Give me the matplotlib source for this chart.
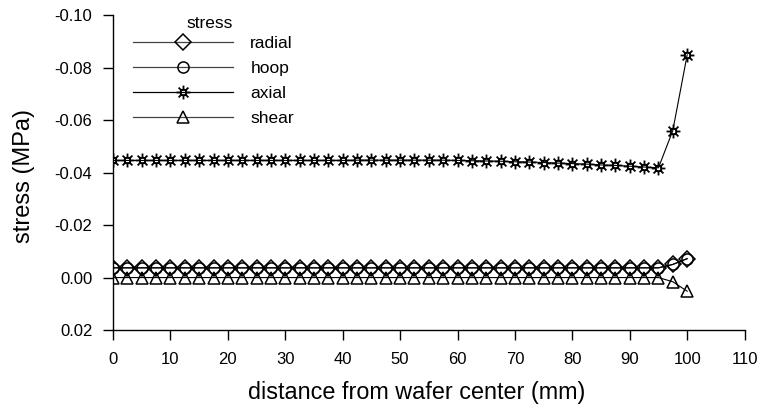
import numpy as np
import matplotlib
matplotlib.use("Agg")
import matplotlib.pyplot as plt
from matplotlib.lines import Line2D
from matplotlib.path import Path

plt.rcParams['font.family'] = ['Liberation Sans', 'DejaVu Sans']

# data (mm from wafer center)
distance = [0, 2.5, 5, 7.5, 10, 12.5, 15, 17.5, 20, 22.5, 25, 27.5, 30, 32.5, 35,
            37.5, 40, 42.5, 45, 47.5, 50, 52.5, 55, 57.5, 60, 62.5, 65, 67.5, 70,
            72.5, 75, 77.5, 80, 82.5, 85, 87.5, 90, 92.5, 95, 97.5, 100]

radial = [-0.0037] * 39 + [-0.0050, -0.0072]
hoop = [-0.0037] * 39 + [-0.0050, -0.0072]
axial = [-0.0446, -0.0446, -0.0446, -0.0446, -0.0446, -0.0446, -0.0446, -0.0446,
         -0.0446, -0.0446, -0.0446, -0.0446, -0.0446, -0.0446, -0.0446, -0.0446,
         -0.0446, -0.0447, -0.0447, -0.0447, -0.0447, -0.0447, -0.0447, -0.0447,
         -0.0446, -0.0445, -0.0444, -0.0443, -0.0441, -0.0440, -0.0438, -0.0436,
         -0.0434, -0.0432, -0.0429, -0.0427, -0.0424, -0.0421, -0.0418,
         -0.0560, -0.0848]
shear = [0.0] * 39 + [0.0016, 0.0052]

series_names = ["radial", "hoop", "axial", "shear"]
legend_title = "stress"
xticks = [0, 10, 20, 30, 40, 50, 60, 70, 80, 90, 100, 110]
yticks = [-0.10, -0.08, -0.06, -0.04, -0.02, 0.00, 0.02]

# custom asterisk-star marker: 8 spokes around a small square
verts, codes = [], []
for k in range(8):
    a = np.pi * k / 4
    r0 = 0.35
    verts += [(r0 * np.cos(a), r0 * np.sin(a)), (np.cos(a), np.sin(a))]
    codes += [Path.MOVETO, Path.LINETO]
sq = 0.38
verts += [(-sq, -sq), (sq, -sq), (sq, sq), (-sq, sq), (-sq, -sq)]
codes += [Path.MOVETO, Path.LINETO, Path.LINETO, Path.LINETO, Path.CLOSEPOLY]
star = Path(verts, codes)

fig = plt.figure(figsize=(7.59, 4.05), dpi=100)
ax = fig.add_axes([0.149, 0.185, 0.832, 0.778])

styles = {
    "radial": dict(marker="D", ms=8.5, mew=1.1),
    "hoop": dict(marker="o", ms=8, mew=1.1),
    "axial": dict(marker=star, ms=10, mew=1.3),
    "shear": dict(marker="^", ms=8.5, mew=1.1),
}
data = {"radial": radial, "hoop": hoop, "axial": axial, "shear": shear}

handles = []
for name in series_names:
    st = styles[name]
    ax.plot(distance, data[name], color="black", lw=0.8,
            marker=st["marker"], ms=st["ms"], mfc="none", mec="black",
            mew=st["mew"], label=name)
    handles.append(Line2D([], [], color="black" if name == "axial" else "#444444",
                          lw=0.9, marker=st["marker"], ms=st["ms"],
                          mfc="none", mec="black", mew=st["mew"]))

ax.set_xlim(0, 110)
ax.set_ylim(0.02, -0.10)
ax.set_xticks(xticks)
ax.set_xticklabels([str(v) for v in xticks])
ax.set_yticks(yticks)
ax.set_yticklabels([f"{v:.2f}" for v in yticks])

for s in ["top", "right"]:
    ax.spines[s].set_visible(False)
for s in ["left", "bottom"]:
    ax.spines[s].set_linewidth(1.0)

ax.tick_params(axis="both", direction="out", length=7, width=1.0,
               labelsize=12, color="black")
ax.tick_params(axis="y", pad=8)
ax.tick_params(axis="x", pad=9)

ax.set_xlabel("distance from wafer center (mm)", fontsize=16.8, labelpad=10)
ax.xaxis.label.set_x(0.48)
ax.set_ylabel("stress (MPa)", fontsize=17, labelpad=14)
ax.yaxis.label.set_y(0.489)

leg = ax.legend(handles, series_names, loc="upper left",
                bbox_to_anchor=(0.018, 0.960), frameon=False, fontsize=12.5,
                handlelength=5.75, handletextpad=1.0,
                labelspacing=0.56, borderpad=0)
fig.text(210 / 759, 1 - 23 / 405, legend_title, fontsize=12.5,
         ha="center", va="center")

fig.savefig("out.png", dpi=100)
